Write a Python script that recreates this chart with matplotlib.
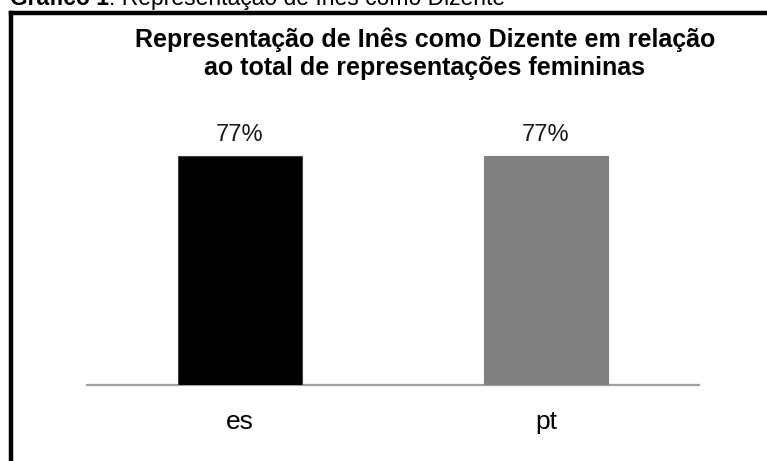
import matplotlib
matplotlib.use("Agg")
import matplotlib.pyplot as plt
from matplotlib.lines import Line2D

plt.rcParams['font.family'] = ['Liberation Sans', 'DejaVu Sans']

# --- dados ---
categorias = ['es', 'pt']
valores = [77, 77]
rotulos = ['77%', '77%']
cores = ['#000000', '#808080']
bordas = ['#404040', '#808080']

W, H = 767, 461
fig = plt.figure(figsize=(W / 100, H / 100), dpi=100)

# eixo em pixels: x 87..699, base em y=385, topo para 100% em ~87
ax = fig.add_axes([87 / W, (H - 385) / H, 612 / W, 297.6 / H])
x = range(len(categorias))
barras = ax.bar(x, valores, width=0.405, color=cores, edgecolor=bordas, linewidth=0.8, zorder=2)
ax.set_xlim(-0.5, 1.5)
ax.set_ylim(0, 100)

for b, r in zip(barras, rotulos):
    ax.annotate(r, (b.get_x() + b.get_width() / 2, b.get_height()),
                xytext=(0, 11), textcoords='offset points',
                ha='center', va='baseline', fontsize=17, color='#1a1a1a')

ax.set_xticks(list(x))
ax.set_xticklabels(categorias, fontsize=19)
ax.tick_params(axis='x', length=0, pad=18)
ax.set_yticks([])
for s in ['top', 'right', 'left']:
    ax.spines[s].set_visible(False)
ax.spines['bottom'].set_color('#a0a0a0')
ax.spines['bottom'].set_linewidth(1.6)
ax.spines['bottom'].set_zorder(1)

# título do gráfico
fig.text(425.5 / W, 1 - 47 / H, 'Representação de Inês como Dizente em relação',
         ha='center', va='baseline', fontsize=18, fontweight='bold')
fig.text(424 / W, 1 - 75 / H, 'ao total de representações femininas',
         ha='center', va='baseline', fontsize=18, fontweight='bold')

# legenda (cortada no topo, como no original)
t1 = fig.text(10 / W, 1 - 5 / H, 'Gráfico 1', ha='left', va='baseline',
              fontsize=16.5, fontweight='bold')
ax.annotate(': Representação de Inês como Dizente', xy=(1, 0), xycoords=t1,
            ha='left', va='bottom', fontsize=16.5, annotation_clip=False)

# moldura (esquerda e topo)
fig.add_artist(Line2D([10.5 / W, 10.5 / W], [0, 1 - 13 / H], color='black',
                      linewidth=3.2, transform=fig.transFigure, solid_capstyle='projecting'))
fig.add_artist(Line2D([10.5 / W, 1], [1 - 13 / H, 1 - 13 / H], color='black',
                      linewidth=3.2, transform=fig.transFigure, solid_capstyle='projecting'))

fig.savefig('out.png', dpi=100)
